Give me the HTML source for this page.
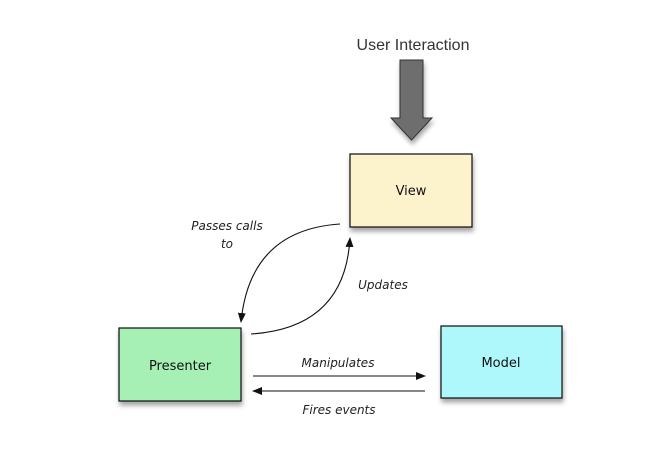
<!DOCTYPE html>
<html><head><style>
body{margin:0;background:#fff;}
svg{display:block;font-family:"DejaVu Sans","Liberation Sans",sans-serif;}
</style></head><body>
<svg width="660" height="449" viewBox="0 0 660 449">
<defs>
<filter id="sh" x="-20%" y="-20%" width="150%" height="160%"><feDropShadow dx="1" dy="4" stdDeviation="2.5" flood-color="#000" flood-opacity="0.35"/></filter>
<marker id="ah" markerWidth="10" markerHeight="10" refX="9" refY="5" orient="auto" markerUnits="userSpaceOnUse"><path d="M0,1 L10,5 L0,9 z" fill="#111"/></marker>
</defs>
<text x="413" y="50" font-size="16" text-anchor="middle" fill="#333" font-family="Liberation Sans, sans-serif">User Interaction</text>
<path d="M400,60 H423 V118 H432 L411.5,140 L391,118 H400 Z" fill="#6e6e6e" stroke="#333" stroke-width="1" filter="url(#sh)"/>
<rect x="350" y="154" width="122" height="73" fill="#fcf3cc" stroke="#111" stroke-width="1.2" filter="url(#sh)"/>
<text x="411" y="195" font-size="13" text-anchor="middle" fill="#111">View</text>
<rect x="119" y="328" width="122" height="73" fill="#a6f0b6" stroke="#111" stroke-width="1.2" filter="url(#sh)"/>
<text x="180" y="370" font-size="13" text-anchor="middle" fill="#111">Presenter</text>
<rect x="441" y="326" width="121" height="72" fill="#aef7fa" stroke="#111" stroke-width="1.2" filter="url(#sh)"/>
<text x="501" y="367" font-size="13" text-anchor="middle" fill="#111">Model</text>
<path d="M340,224 Q250,230 241,322" fill="none" stroke="#111" stroke-width="1.1" marker-end="url(#ah)"/>
<path d="M251,334 Q345,328 350,238" fill="none" stroke="#111" stroke-width="1.1" marker-end="url(#ah)"/>
<line x1="253" y1="376" x2="425" y2="376" stroke="#111" stroke-width="1.1" marker-end="url(#ah)"/>
<line x1="425" y1="391" x2="253" y2="391" stroke="#111" stroke-width="1.1" marker-end="url(#ah)"/>
<g font-size="12" font-style="italic" fill="#222" text-anchor="middle">
<text x="227" y="230">Passes calls</text>
<text x="227" y="248">to</text>
<text x="383" y="289">Updates</text>
<text x="338" y="367">Manipulates</text>
<text x="339" y="414">Fires events</text>
</g>
</svg>
</body></html>
